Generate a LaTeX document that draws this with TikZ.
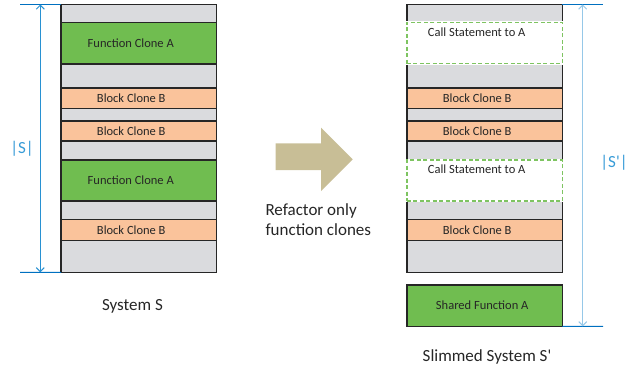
\documentclass[tikz,border=0pt]{standalone}
\usepackage{fontspec}
\setmainfont{Carlito}
\usetikzlibrary{arrows.meta,positioning}

\definecolor{clonegreen}{RGB}{112,189,80}
\definecolor{cloneorange}{RGB}{250,195,155}
\definecolor{gapgray}{RGB}{218,219,222}
\definecolor{boxline}{RGB}{38,38,38}
\definecolor{dimdark}{RGB}{0,112,192}
\definecolor{dimleft}{RGB}{40,145,210}
\definecolor{dimright}{RGB}{150,200,232}
\definecolor{dimtext}{RGB}{55,155,215}
\definecolor{refactortan}{RGB}{200,190,150}

\begin{document}
\begin{tikzpicture}[x=1pt,y=-1pt,
  seg/.style={draw=boxline,line width=1.6pt,minimum width=155.5pt,inner sep=0pt,
    outer sep=0pt,anchor=north,font=\fontsize{12.5}{14}\selectfont,text=black!85},
  gap/.style={seg,fill=gapgray},
  funcA/.style={seg,fill=clonegreen,execute at end node=\hspace*{16pt}},
  blockB/.style={seg,fill=cloneorange,execute at end node=\hspace*{15pt}},
  callA/.style={seg,fill=white,draw=clonegreen!90,line width=1.4pt,
    dash pattern=on 4pt off 2.5pt,preaction={draw=white,solid,line width=2.2pt}},
  calltext/.style={inner sep=0pt,font=\fontsize{12.5}{14}\selectfont,text=black!85},
  dimtick/.style={draw=dimdark,line width=1pt},
  dimline/.style={line width=1pt,{Straight Barb[length=4pt,width=8pt]}-{Straight Barb[length=4pt,width=8pt]}},
  dimlabel/.style={text=dimtext,font=\fontsize{17}{20}\selectfont},
  caption/.style={text=black!85,font=\fontsize{17}{19.5}\selectfont}]

  \useasboundingbox (0,0) rectangle (637,373);

  % System S (left column)

  \node [gap,minimum height=17.8] (s1) at (138.75,4.5) {};
  \node [funcA,minimum height=41.4] (s2) at (s1.south) {Function Clone A};
  \node [gap,minimum height=24.3] (s3) at (s2.south) {};
  \node [blockB,minimum height=20.3] (s4) at (s3.south) {Block Clone B};
  \node [gap,minimum height=12.4] (s5) at (s4.south) {};
  \node [blockB,minimum height=20.3] (s6) at (s5.south) {Block Clone B};
  \node [gap,minimum height=19] (s7) at (s6.south) {};
  \node [funcA,minimum height=41] (s8) at (s7.south) {Function Clone A};
  \node [gap,minimum height=18.5] (s9) at (s8.south) {};
  \node [blockB,minimum height=21] (s10) at (s9.south) {Block Clone B};
  \node [gap,minimum height=31.8] (s11) at (s10.south) {};

  \node [caption] (sys-s) at (132.5,306) {System S};

  % Slimmed System S' (right column)

  \node [gap,minimum height=17.8] (t1) at (484.7,4.5) {};
  \node [gap,minimum height=24.3] (t3) at (484.7,63.7) {};
  \node [blockB,minimum height=20.3] (t4) at (t3.south) {Block Clone B};
  \node [gap,minimum height=12.4] (t5) at (t4.south) {};
  \node [blockB,minimum height=20.3] (t6) at (t5.south) {Block Clone B};
  \node [gap,minimum height=19] (t7) at (t6.south) {};
  \node [gap,minimum height=18.5] (t9) at (484.7,201) {};
  \node [blockB,minimum height=21] (t10) at (t9.south) {Block Clone B};
  \node [gap,minimum height=31.8] (t11) at (t10.south) {};
  \node [callA,minimum height=41.4] (t2) at (t1.south) {};
  \node [callA,minimum height=41] (t8) at (t7.south) {};
  \node [calltext,below=5pt of t2.north,xshift=-8pt] (t2-txt) {Call Statement to A};
  \node [calltext,below=5pt of t8.north,xshift=-8pt] (t8-txt) {Call Statement to A};

  \node [seg,fill=clonegreen,minimum height=41.3,execute at end node=\hspace*{5pt}]
    (shared) at (484.7,285) {Shared Function A};

  \node [caption] (sys-t) at (487,357) {Slimmed System S\textquotesingle};

  % refactoring step

  \fill [refactortan] (275.7,143.3) -- (321,143.3) -- (321,127.7) -- (352.7,159.4)
    -- (321,191) -- (321,170) -- (275.7,170) -- cycle;
  \node [caption,align=left,anchor=west] (refac) at (262,219.5)
    {Refactor only\\function clones};

  % size of S

  \coordinate (s-tick-top) at (20,4.5);
  \coordinate (s-tick-bot) at (20,272.3);
  \coordinate (s-top) at (40.3,4.5);
  \coordinate (s-bot) at (40.3,272.3);
  \draw [dimtick] (s-tick-top) -- (s1.north west);
  \draw [dimtick] (s-tick-bot) -- (s11.south west);
  \draw [dimline,draw=dimleft] (s-top) -- (s-bot);
  \node [dimlabel] (s-size) at (22,149) {|S|};

  % size of S'

  \coordinate (t-tick-top) at (603,4.5);
  \coordinate (t-tick-bot) at (603,326.3);
  \coordinate (t-top) at (582.7,4.5);
  \coordinate (t-bot) at (582.7,326.3);
  \draw [dimtick] (t1.north east) -- (t-tick-top);
  \draw [dimtick] (shared.south east) -- (t-tick-bot);
  \draw [dimline,draw=dimright] (t-top) -- (t-bot);
  \node [dimlabel] (t-size) at (614,163) {|S\textquotesingle|};
\end{tikzpicture}
\end{document}
